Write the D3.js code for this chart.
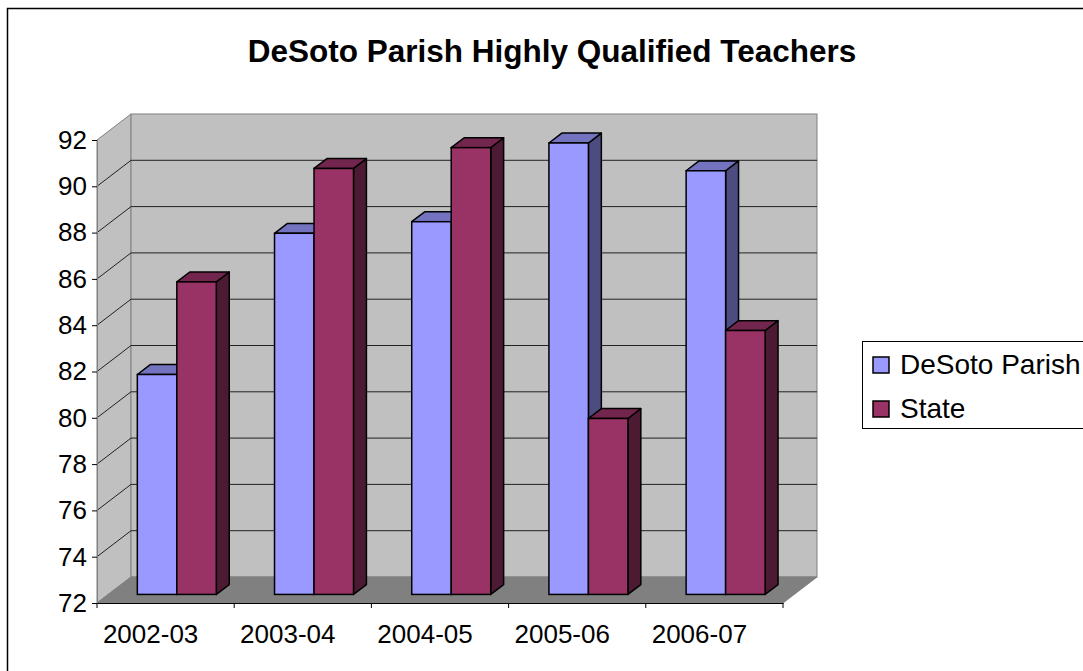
<!DOCTYPE html>
<html>
<head>
<meta charset="utf-8">
<script src="https://cdn.jsdelivr.net/npm/d3@7"></script>
<style>
    body { margin: 0; background: #fff; }
    text { font-family: Arial, "Liberation Sans", sans-serif; fill: #000; }
</style>
</head>
<body>
<svg id="chart" width="1083" height="671"></svg>
<script>
// chart data
var categories = ['2002-03', '2003-04', '2004-05', '2005-06', '2006-07'];
var seriesNames = ['DeSoto Parish', 'State'];
var desotoValues = [81.5, 87.6, 88.1, 91.5, 90.3];
var stateValues = [85.5, 90.4, 91.3, 79.6, 83.4];
var yTicks = [72, 74, 76, 78, 80, 82, 84, 86, 88, 90, 92];

// front / top / side colours per series
var seriesColors = [
    { front: '#9999ff', top: '#7373c0', side: '#4c4c80' },
    { front: '#993366', top: '#73264d', side: '#4c1a33' }
];

var dims = {
    left: 97,
    right: 783,
    top: 140,
    bottom: 603,
    // depth of the 3d box (px)
    depthX: 34,
    depthY: 26,
    // where the bars sit inside the depth (fractions)
    barFront: 0.33,
    barDepth: 0.38
};

var svg = d3.select('#chart');

// outer chart border (runs off the right and bottom edge)
svg.append('rect')
    .attr('x', 7.5)
    .attr('y', 8.5)
    .attr('width', 1200)
    .attr('height', 800)
    .attr('fill', '#fff')
    .attr('stroke', '#000')
    .attr('stroke-width', 1.5);

svg.append('text')
    .attr('x', 552)
    .attr('y', 62)
    .attr('text-anchor', 'middle')
    .style('font-size', '31.5px')
    .style('font-weight', 'bold')
    .text('DeSoto Parish Highly Qualified Teachers');

var x = d3.scaleBand()
    .domain(categories)
    .range([dims.left, dims.right]);

var inner = d3.scaleBand()
    .domain(seriesNames)
    .range([0, x.bandwidth()])
    .paddingOuter(0.737);

var y = d3.scaleLinear()
    .domain([yTicks[0], yTicks[yTicks.length - 1]])
    .range([dims.bottom, dims.top]);

var dx = dims.depthX, dy = dims.depthY;

// walls and floor
var walls = svg.append('g');

walls.append('polygon')
    .attr('points', [[dims.left, y(92)], [dims.left + dx, y(92) - dy],
        [dims.left + dx, y(72) - dy], [dims.left, y(72)]].join(' '))
    .attr('fill', '#c0c0c0')
    .attr('stroke', '#808080');

walls.append('rect')
    .attr('x', dims.left + dx)
    .attr('y', y(92) - dy)
    .attr('width', dims.right - dims.left)
    .attr('height', y(72) - y(92))
    .attr('fill', '#c0c0c0')
    .attr('stroke', '#808080');

walls.append('polygon')
    .attr('points', [[dims.left, y(72)], [dims.left + dx, y(72) - dy],
        [dims.right + dx, y(72) - dy], [dims.right, y(72)]].join(' '))
    .attr('fill', '#808080')
    .attr('stroke', '#808080');

// gridlines on side wall + back wall
yTicks.slice(1, -1).forEach(function (t) {
    walls.append('polyline')
        .attr('points', [[dims.left, y(t)], [dims.left + dx, y(t) - dy],
            [dims.right + dx, y(t) - dy]].join(' '))
        .attr('fill', 'none')
        .attr('stroke', '#222')
        .attr('stroke-width', 1);
});

// bars
var bars = svg.append('g');
var fx = dx * dims.barFront, fy = dy * dims.barFront;
var bdx = dx * dims.barDepth, bdy = dy * dims.barDepth;

categories.forEach(function (cat, i) {
    [desotoValues[i], stateValues[i]].forEach(function (v, s) {
        var x0 = x(cat) + inner(seriesNames[s]) + fx,
            x1 = x0 + inner.bandwidth(),
            yb = y(72) - fy,
            yt = y(v) - fy,
            c = seriesColors[s];

        bars.append('polygon')
            .attr('points', [[x1, yt], [x1 + bdx, yt - bdy], [x1 + bdx, yb - bdy], [x1, yb]].join(' '))
            .attr('fill', c.side)
            .attr('stroke', '#000')
            .attr('stroke-width', 1.5)
            .attr('stroke-linejoin', 'round');

        bars.append('polygon')
            .attr('points', [[x0, yt], [x0 + bdx, yt - bdy], [x1 + bdx, yt - bdy], [x1, yt]].join(' '))
            .attr('fill', c.top)
            .attr('stroke', '#000')
            .attr('stroke-width', 1.5)
            .attr('stroke-linejoin', 'round');

        bars.append('rect')
            .attr('x', x0)
            .attr('y', yt)
            .attr('width', x1 - x0)
            .attr('height', yb - yt)
            .attr('fill', c.front)
            .attr('stroke', '#000')
            .attr('stroke-width', 1.5);
    });
});

// y axis
var yAxis = svg.append('g')
    .attr('transform', 'translate(' + dims.left + ',0)')
    .call(d3.axisLeft(y).tickValues(yTicks).tickSize(5).tickPadding(5));
yAxis.select('.domain').attr('stroke', '#808080');
yAxis.selectAll('.tick line').attr('stroke', '#000');
yAxis.selectAll('text').style('font-size', '26px');

// x axis, ticks sit on category boundaries
var xAxis = svg.append('g')
    .attr('transform', 'translate(0,' + dims.bottom + ')')
    .call(d3.axisBottom(x).tickSize(0).tickPadding(22));
xAxis.select('.domain').attr('stroke', '#000');
// excel sets the labels a little left of the band centre
xAxis.selectAll('text')
    .attr('x', -15)
    .style('font-size', '26px');

categories.concat([null]).forEach(function (cat) {
    var xp = cat === null ? dims.right : x(cat);
    xAxis.append('line')
        .attr('x1', xp).attr('x2', xp)
        .attr('y1', 0).attr('y2', 5)
        .attr('stroke', '#000');
});

// legend
var legend = svg.append('g');
legend.append('rect')
    .attr('x', 862.5)
    .attr('y', 341.5)
    .attr('width', 400)
    .attr('height', 87)
    .attr('fill', '#fff')
    .attr('stroke', '#000');

seriesNames.forEach(function (name, s) {
    var ly = 357 + s * 44;
    legend.append('rect')
        .attr('x', 873)
        .attr('y', ly)
        .attr('width', 16)
        .attr('height', 16)
        .attr('fill', seriesColors[s].front)
        .attr('stroke', '#000')
        .attr('stroke-width', 1.5);
    legend.append('text')
        .attr('x', 900)
        .attr('y', ly + 17)
        .style('font-size', '28px')
        .text(name);
});
</script>
</body>
</html>
